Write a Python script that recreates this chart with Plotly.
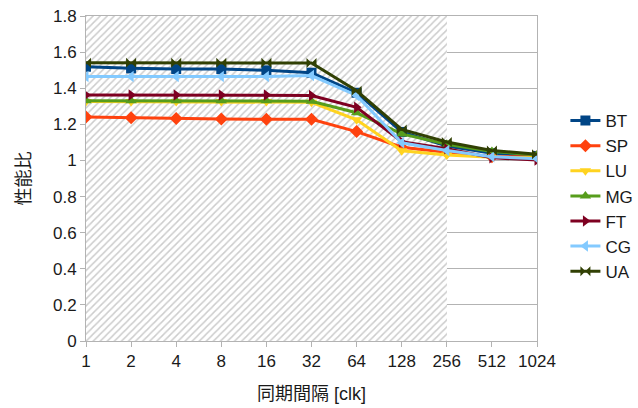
import plotly.graph_objects as go

# Synchronisation interval (clock cycles) and performance ratio per benchmark
intervals = ["1", "2", "4", "8", "16", "32", "64", "128", "256", "512", "1024"]

bt = [1.519, 1.510, 1.506, 1.506, 1.499, 1.486, 1.375, 1.158, 1.080, 1.040, 1.025]
sp = [1.241, 1.236, 1.232, 1.230, 1.228, 1.228, 1.160, 1.073, 1.045, 1.020, 1.020]
lu = [1.326, 1.326, 1.326, 1.326, 1.326, 1.322, 1.225, 1.054, 1.030, 1.018, 1.015]
mg = [1.331, 1.331, 1.331, 1.331, 1.331, 1.328, 1.264, 1.147, 1.090, 1.050, 1.030]
ft = [1.362, 1.362, 1.362, 1.362, 1.362, 1.360, 1.294, 1.104, 1.065, 1.015, 1.002]
cg = [1.465, 1.465, 1.465, 1.465, 1.465, 1.470, 1.360, 1.098, 1.055, 1.020, 1.010]
ua = [1.541, 1.541, 1.541, 1.541, 1.541, 1.540, 1.386, 1.172, 1.102, 1.055, 1.035]

series_names = ["BT", "SP", "LU", "MG", "FT", "CG", "UA"]
series_values = [bt, sp, lu, mg, ft, cg, ua]
colors = ["#004586", "#ff420e", "#ffd320", "#579d1c", "#7e0021", "#83caff", "#314004"]
symbols = ["square", "diamond", "triangle-down", "triangle-up",
           "triangle-right", "triangle-left", "bowtie"]

# Hatched band covering the intervals 1 .. 256
band_start, band_end = "1", "256"
y_max = 1.8

font_family = "Liberation Sans, Noto Sans CJK JP, sans-serif"

fig = go.Figure()

i0, i1 = intervals.index(band_start), intervals.index(band_end)
fig.add_trace(go.Bar(
    x=[intervals[(i0 + i1) // 2]],
    y=[y_max],
    width=[i1 - i0],
    marker=dict(
        color="white",
        line=dict(width=0),
        pattern=dict(shape="/", fgcolor="#9a9a9a", bgcolor="white", size=5, solidity=0.3),
    ),
    showlegend=False,
    hoverinfo="skip",
))

for name, vals, col, sym in zip(series_names, series_values, colors, symbols):
    fig.add_trace(go.Scatter(
        x=intervals, y=vals, name=name, mode="lines+markers",
        line=dict(color=col, width=3),
        marker=dict(symbol=sym, size=10, color=col, line=dict(width=0)),
    ))

fig.update_layout(
    width=638, height=408,
    margin=dict(l=86, r=101, t=16, b=67, autoexpand=False),
    paper_bgcolor="white", plot_bgcolor="white",
    font=dict(family=font_family, size=17, color="#1a1a1a"),
    bargap=0,
    legend=dict(
        x=1.063, xanchor="left", y=0.446, yanchor="middle",
        font=dict(size=17, color="#1a1a1a"),
        tracegroupgap=0, itemwidth=30,
        bgcolor="rgba(0,0,0,0)",
    ),
    xaxis=dict(
        type="category", categoryorder="array", categoryarray=intervals,
        range=[0, len(intervals) - 1],
        showgrid=False, zeroline=False,
        showline=True, linecolor="#b3b3b3", linewidth=1, mirror=True,
        ticks="outside", ticklen=5, tickcolor="#b3b3b3",
        tickfont=dict(size=17),
        title=dict(text="同期間隔 [clk]", font=dict(size=18), standoff=16),
    ),
    yaxis=dict(
        range=[0, y_max], dtick=0.2, tickformat="~g",
        showgrid=True, gridcolor="#b3b3b3", gridwidth=1, zeroline=False,
        showline=True, linecolor="#b3b3b3", linewidth=1, mirror=True,
        ticks="outside", ticklen=5, tickcolor="#b3b3b3",
        tickfont=dict(size=17),
        title=dict(text="性能比", font=dict(size=18), standoff=17),
    ),
)

fig.write_html("out.html")
